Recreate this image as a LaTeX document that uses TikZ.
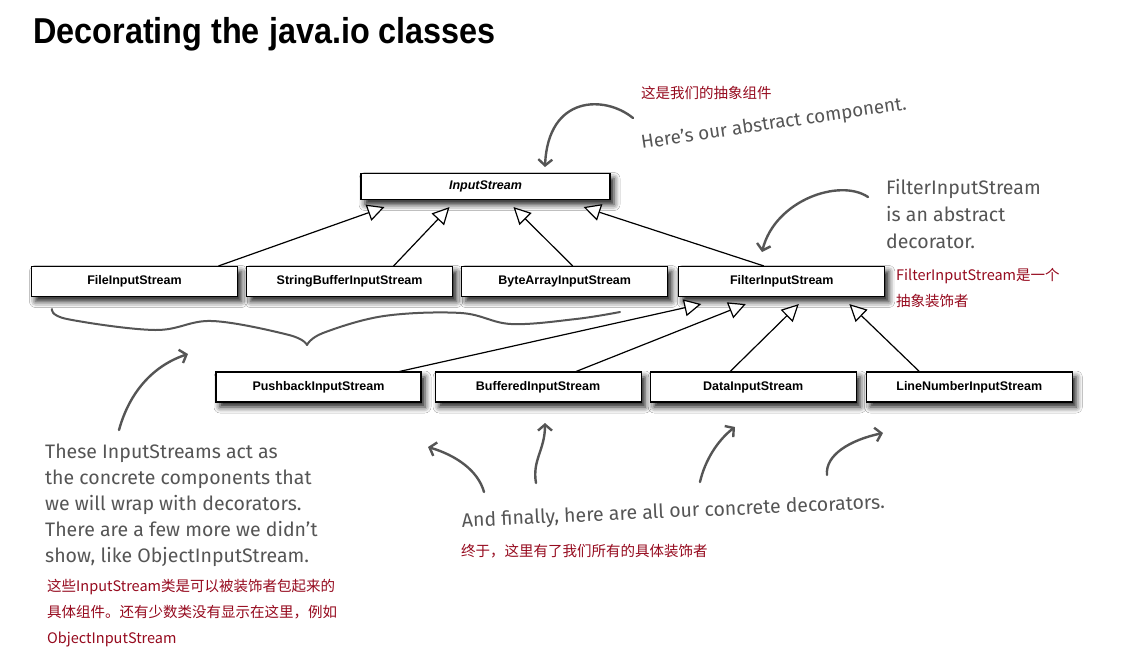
\documentclass[tikz,border=0pt]{standalone}
\usepackage{fontspec}
\setmainfont{Liberation Sans}
\newfontfamily\titlefont[FakeStretch=0.9]{Liberation Sans}
\newfontfamily\handfont{Fira Sans}
\newfontfamily\cjk{Noto Sans CJK SC}
\usetikzlibrary{arrows.meta, positioning, shadows.blur}
\definecolor{iored}{RGB}{150,10,30}
\definecolor{iogray}{RGB}{85,85,85}
\tikzset{
  %% ---- boxes ----
  cls/.style    = {rectangle, draw=black, line width=1.1pt, fill=white,
                   minimum width=#1, minimum height=30pt, inner sep=0pt,
                   font=\fontsize{12.5}{14}\selectfont\bfseries,
                   blur shadow={shadow xshift=4pt, shadow yshift=-5pt,
                                shadow blur radius=6pt, shadow opacity=90}},
  cls/.default  = 206pt,
  hand/.style   = {font=\handfont\fontsize{19.5}{26}\selectfont, text=iogray,
                   align=left, inner sep=0pt},
  note/.style   = {font=\cjk\fontsize{14.5}{26}\selectfont, text=iored,
                   align=left, inner sep=0pt},
  %% ---- arrows ----
  inherit/.style  = {-{Triangle[length=17pt, width=17pt, fill=white]}, line width=1.2pt},
  scribble/.style = {-{Straight Barb[length=6pt, width=14pt]}, line width=2.4pt,
                     color=iogray, line cap=round},
  brace/.style    = {line width=2pt, color=iogray, line cap=round},
}

\begin{document}
\begin{tikzpicture}[x=1pt, y=-1pt, node distance=8pt]
\fill[white] (0,0) rectangle (1130,662);
\useasboundingbox (0,0) rectangle (1130,662);
\node[anchor=base west, inner sep=0pt, font=\titlefont\fontsize{36}{40}\selectfont\bfseries] (title) at (33,43) {Decorating the java.io classes};
% component and the first row
\node[cls=249pt, minimum height=26pt, font=\fontsize{12.5}{14}\selectfont\bfseries\itshape] (is) at (485.5,186.5) {InputStream};
\node[cls]                 (fis)  at (134.5,281.5) {FileInputStream};
\node[cls, right=of fis]   (sbis) {StringBufferInputStream};
\node[cls, right=of sbis]  (bais) {ByteArrayInputStream};
\node[cls, right=10pt of bais] (filt) {FilterInputStream};
% decorators
\node[cls=205pt]           (pbis) at (318.5,387) {PushbackInputStream};
\node[cls, right=13pt of pbis] (bfis) {BufferedInputStream};
\node[cls, right=of bfis]  (dis)  {DataInputStream};
\node[cls, right=9pt of dis]   (lnis) {LineNumberInputStream};
\draw[inherit] ([xshift=84pt]fis.north)  -- ([xshift=24pt,yshift=-7pt]is.south west);
\draw[inherit] ([xshift=44pt]sbis.north) -- ([xshift=-36pt,yshift=-7pt]is.south);
\draw[inherit] ([xshift=8pt]bais.north)  -- ([xshift=28pt,yshift=-7pt]is.south);
\draw[inherit] ([xshift=-18pt]filt.north) -- ([xshift=-27pt,yshift=-7pt]is.south east);
\draw[inherit] ([xshift=81pt]pbis.north) -- ([xshift=23pt,yshift=-7pt]filt.south west);
\draw[inherit] ([xshift=38pt]bfis.north) -- ([xshift=-36pt,yshift=-7pt]filt.south);
\draw[inherit] ([xshift=-23pt]dis.north) -- ([xshift=17pt,yshift=-7pt]filt.south);
\draw[inherit] ([xshift=-50pt]lnis.north) -- ([xshift=-36pt,yshift=-7pt]filt.south east);
% notes
\node[note, anchor=west] (absnote) at (641,93) {这是我们的抽象组件};
\node[hand, anchor=base west, rotate=8.5, font=\handfont\fontsize{18.8}{26}\selectfont] (abshand) at (642,149) {Here’s our abstract component.};
\node[hand, anchor=north west, font=\handfont\fontsize{19.5}{27}\selectfont] (filthand) at (886,179) {FilterInputStream\\is an abstract\\decorator.};
\node[note, anchor=north west] (filtnote) at (896,268) {FilterInputStream是一个\\抽象装饰者};
\node[hand, anchor=north west] (lefthand) at (45,444) {These InputStreams act as\\the concrete components that\\we will wrap with decorators.\\There are a few more we didn’t\\show, like ObjectInputStream.};
\node[note, anchor=north west] (leftnote) at (47,579) {这些InputStream类是可以被装饰者包起来的\\具体组件。还有少数类没有显示在这里，例如\\ObjectInputStream};
\node[hand, anchor=base west, rotate=2.5] (bothand) at (462,527) {And finally, here are all our concrete decorators.};
\node[note, anchor=west] (botnote) at (461,551) {终于，这里有了我们所有的具体装饰者};
% scribbled arrows
\coordinate (a0) at (633,118); \coordinate (a1) at (545,167);
\coordinate (b0) at (868,197); \coordinate (b1) at (762,252);
\coordinate (c0) at (119,430); \coordinate (c1) at (188,354);
\coordinate (d0) at (484,492); \coordinate (d1) at (428,447);
\coordinate (e0) at (536,483); \coordinate (e1) at (545,423);
\coordinate (f0) at (700,482); \coordinate (f1) at (735,427);
\coordinate (g0) at (827,475); \coordinate (g1) at (883,433);
\draw[scribble] (a0) .. controls (605,95) and (548,95) .. (a1);
\draw[scribble] (b0) .. controls (840,178) and (775,200) .. (b1);
\draw[scribble] (c0) .. controls (130,390) and (155,365) .. (c1);
\draw[scribble] (d0) .. controls (478,470) and (455,455) .. (d1);
\draw[scribble] (e0) .. controls (532,460) and (545,450) .. (e1);
\draw[scribble] (f0) .. controls (705,460) and (718,440) .. (f1);
\draw[scribble] (g0) .. controls (825,455) and (850,440) .. (g1);
% brace under the concrete components
\draw[brace] plot[smooth, tension=0.6] coordinates {(52,309) (67,319) (155,330) (212,321) (289,335) (307,345)};
\draw[brace] plot[smooth, tension=0.6] coordinates {(307,345) (323,333) (384,316) (461,313) (511,324) (576,319) (620,312)};
\end{tikzpicture}
\end{document}
